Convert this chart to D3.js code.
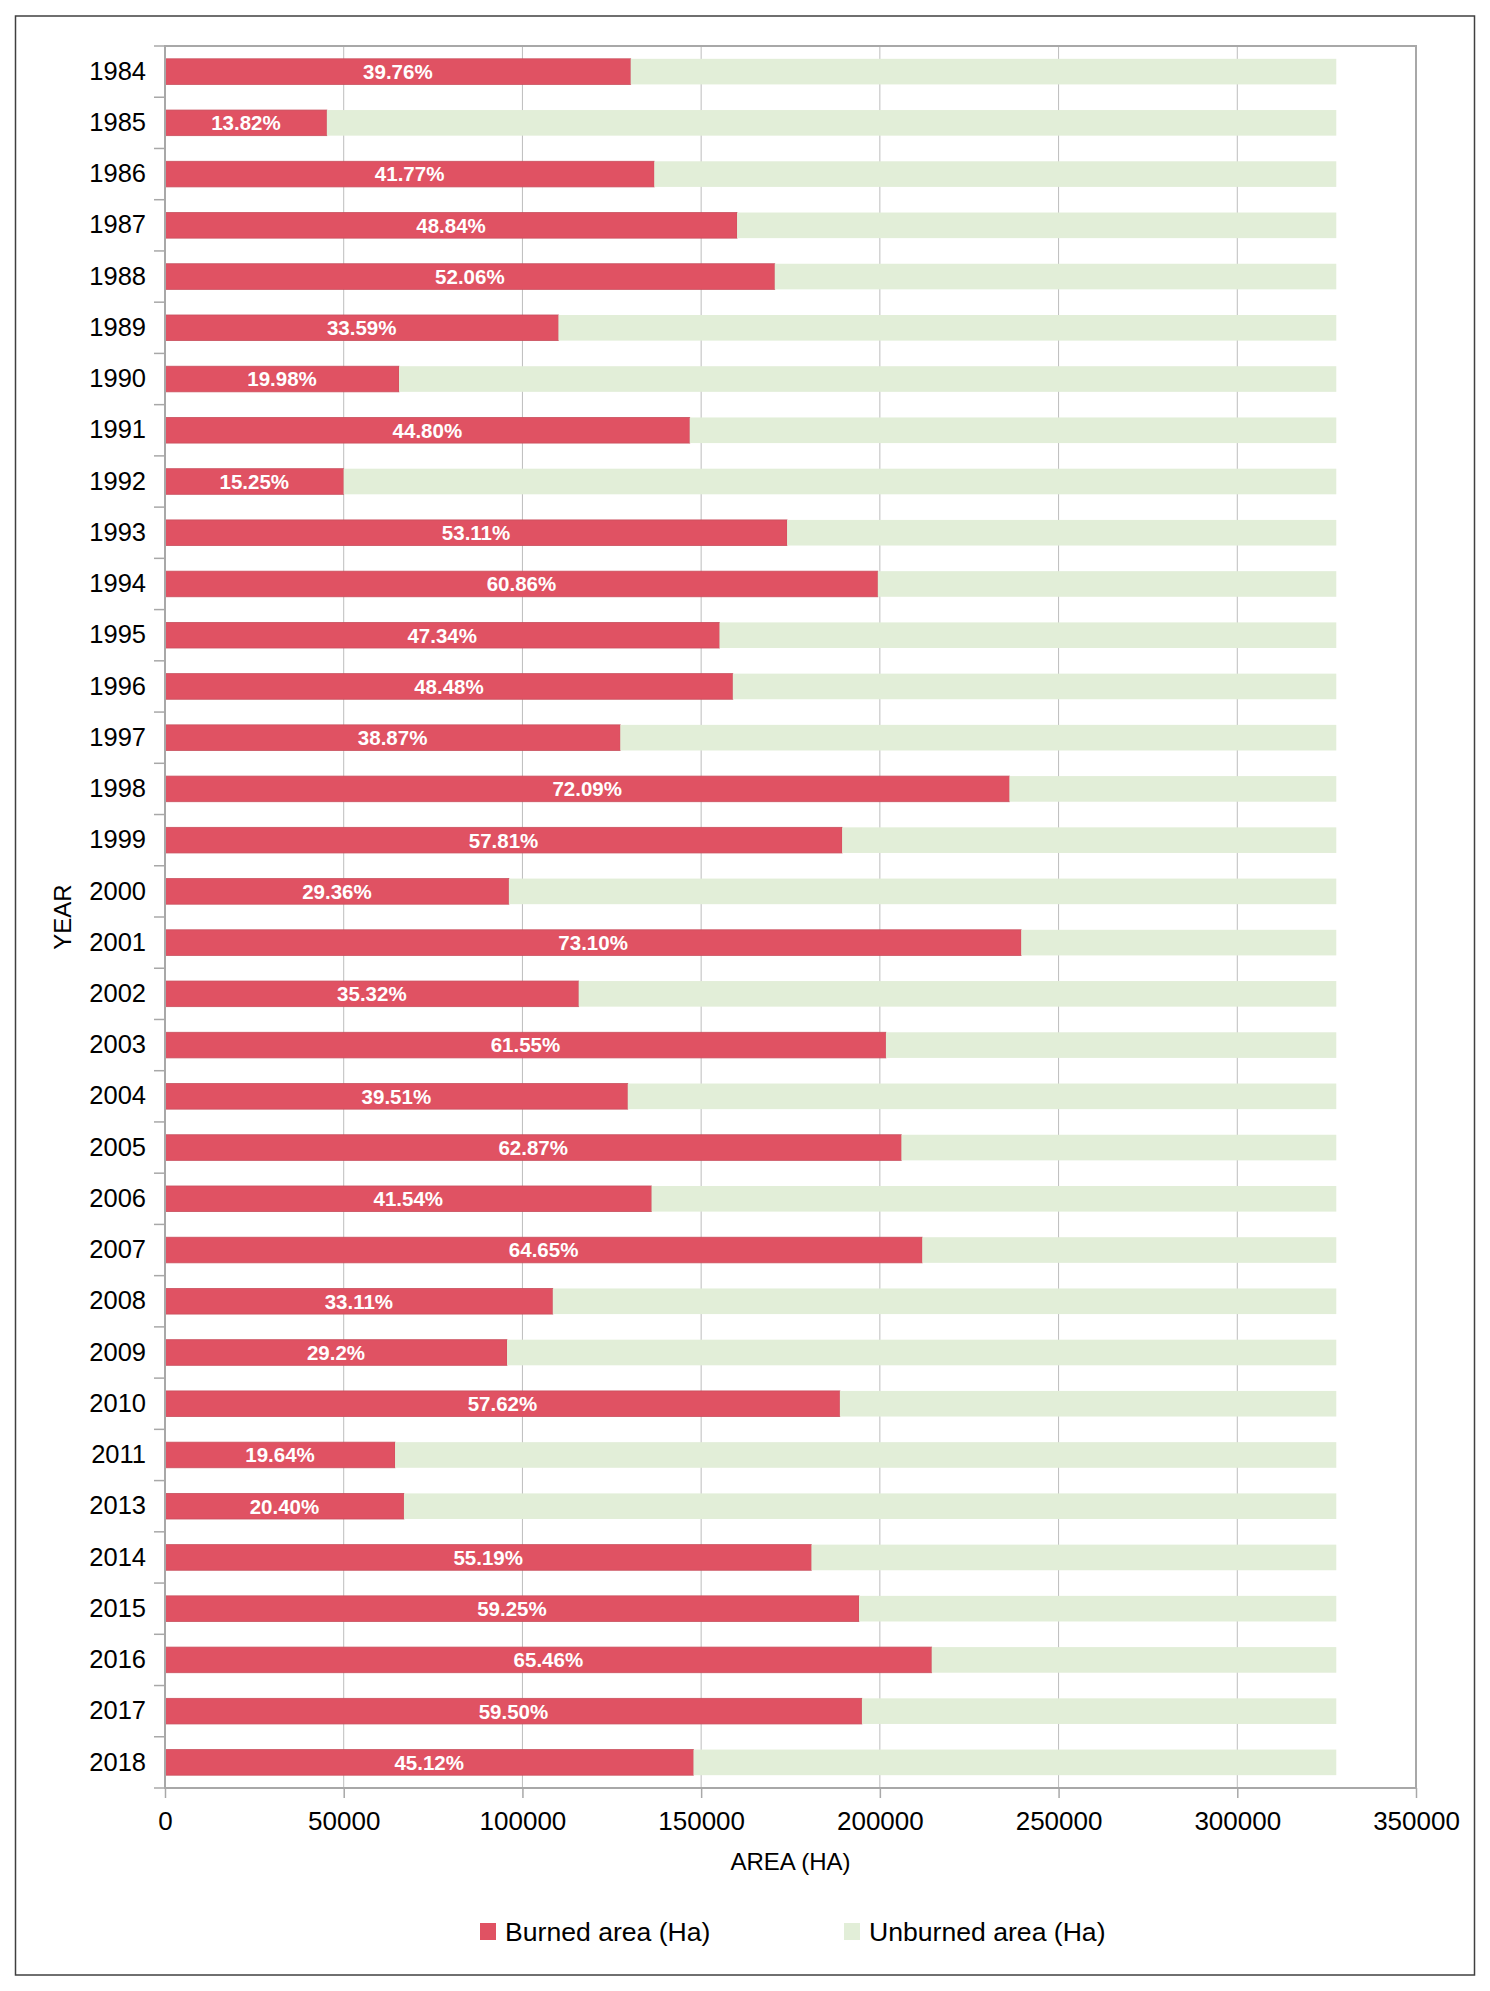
<!DOCTYPE html>
<html lang="en">
<head>
    <meta charset="UTF-8">
    <title>Burned and unburned area by year</title>
    <script src="https://d3js.org/d3.v7.min.js"></script>
    <style>
        body { margin: 0; background: #fff; font-family: "Liberation Sans", Arial, sans-serif; }
    </style>
</head>
<body>
    <script>
        // Data
        const years = ["1984","1985","1986","1987","1988","1989","1990","1991","1992","1993",
                       "1994","1995","1996","1997","1998","1999","2000","2001","2002","2003",
                       "2004","2005","2006","2007","2008","2009","2010","2011","2013","2014",
                       "2015","2016","2017","2018"];
        const burned = [130294, 45288, 136880, 160049, 170601, 110074, 65474, 146810, 49974, 174042,
                        199438, 155133, 158869, 127376, 236239, 189440, 96213, 239549, 115744, 201699,
                        129474, 206025, 136127, 211858, 108501, 95688, 188821, 64360, 66851, 180858,
                        194162, 214512, 194982, 147858];
        const unburned = [197406, 282412, 190820, 167651, 157099, 217626, 262226, 180890, 277726, 153658,
                          128262, 172567, 168831, 200324, 91461, 138260, 231487, 88151, 211956, 126001,
                          198226, 121675, 191573, 115842, 219199, 232012, 138879, 263340, 260849, 146842,
                          133538, 113188, 132718, 179842];
        const pctLabels = ["39.76%","13.82%","41.77%","48.84%","52.06%","33.59%","19.98%","44.80%","15.25%","53.11%",
                           "60.86%","47.34%","48.48%","38.87%","72.09%","57.81%","29.36%","73.10%","35.32%","61.55%",
                           "39.51%","62.87%","41.54%","64.65%","33.11%","29.2%","57.62%","19.64%","20.40%","55.19%",
                           "59.25%","65.46%","59.50%","45.12%"];
        const xTicks = [0, 50000, 100000, 150000, 200000, 250000, 300000, 350000];
        const seriesNames = ["Burned area (Ha)", "Unburned area (Ha)"];
        const seriesColors = ["#e05263", "#e2eed8"];

        const W = 1490, H = 1991;
        const plot = { left: 165, right: 1416, top: 46, bottom: 1788 };

        const svg = d3.select("body").append("svg")
            .attr("width", W)
            .attr("height", H);

        // outer frame
        svg.append("rect")
            .attr("x", 15.5).attr("y", 16)
            .attr("width", 1459).attr("height", 1959)
            .attr("fill", "none")
            .attr("stroke", "#404040")
            .attr("stroke-width", 1.5);

        const x = d3.scaleLinear()
            .domain([0, 350000])
            .range([plot.left, plot.right]);

        const y = d3.scaleBand()
            .domain(years)
            .range([plot.top, plot.bottom])
            .paddingInner(0.5)
            .paddingOuter(0.25);

        const rows = years.map((yr, i) => ({ year: yr, burned: burned[i], unburned: unburned[i], label: pctLabels[i] }));
        const stacked = d3.stack().keys(["burned", "unburned"])(rows);

        // vertical gridlines
        svg.append("g")
            .selectAll("line")
            .data(xTicks.slice(1, -1))
            .join("line")
            .attr("x1", d => x(d)).attr("x2", d => x(d))
            .attr("y1", plot.top).attr("y2", plot.bottom)
            .attr("stroke", "#bdbdbd")
            .attr("stroke-width", 1);

        // bars
        svg.append("g")
            .selectAll("g")
            .data(stacked)
            .join("g")
            .attr("fill", (d, i) => seriesColors[i])
            .attr("stroke", (d, i) => i === 0 ? "#c9505e" : "none")
            .attr("stroke-width", 0.8)
            .selectAll("rect")
            .data(d => d)
            .join("rect")
            .attr("x", d => x(d[0]))
            .attr("y", d => y(d.data.year))
            .attr("width", d => x(d[1]) - x(d[0]))
            .attr("height", y.bandwidth());

        // percent labels inside burned bars
        svg.append("g")
            .selectAll("text")
            .data(rows)
            .join("text")
            .attr("x", d => (x(0) + x(d.burned)) / 2)
            .attr("y", d => y(d.year) + y.bandwidth() / 2)
            .attr("dy", "0.36em")
            .attr("text-anchor", "middle")
            .attr("fill", "#ffffff")
            .style("font-size", "20.5px")
            .style("font-weight", "bold")
            .text(d => d.label);

        // plot frame
        svg.append("rect")
            .attr("x", plot.left).attr("y", plot.top)
            .attr("width", plot.right - plot.left)
            .attr("height", plot.bottom - plot.top)
            .attr("fill", "none")
            .attr("stroke", "#a8a8a8")
            .attr("stroke-width", 2);

        // y axis: category labels and boundary ticks
        const yAxis = svg.append("g")
            .attr("transform", `translate(${plot.left},0)`)
            .call(d3.axisLeft(y).tickSize(0).tickPadding(19));
        yAxis.select(".domain").remove();
        yAxis.selectAll("text")
            .attr("fill", "#000")
            .style("font-size", "25.5px")
            .style("font-family", "'Liberation Sans', Arial, sans-serif");

        const bounds = [plot.top].concat(years.map(d => y(d) + y.bandwidth() + y.step() * y.paddingInner() / 2));
        svg.append("g")
            .selectAll("line")
            .data(bounds)
            .join("line")
            .attr("x1", plot.left - 11).attr("x2", plot.left)
            .attr("y1", d => d).attr("y2", d => d)
            .attr("stroke", "#a8a8a8")
            .attr("stroke-width", 1.5);

        // x axis
        const xAxis = svg.append("g")
            .attr("transform", `translate(0,${plot.bottom})`)
            .call(d3.axisBottom(x).tickValues(xTicks).tickFormat(d3.format("d")).tickSize(10).tickPadding(14));
        xAxis.select(".domain").remove();
        xAxis.selectAll("line").attr("stroke", "#a8a8a8").attr("stroke-width", 1.5);
        xAxis.selectAll("text")
            .attr("fill", "#000")
            .style("font-size", "26px")
            .style("font-family", "'Liberation Sans', Arial, sans-serif");

        // axis titles
        svg.append("text")
            .attr("x", (plot.left + plot.right) / 2)
            .attr("y", 1870)
            .attr("text-anchor", "middle")
            .style("font-size", "24px")
            .text("AREA (HA)");

        svg.append("text")
            .attr("transform", `translate(71,${(plot.top + plot.bottom) / 2}) rotate(-90)`)
            .attr("text-anchor", "middle")
            .style("font-size", "24px")
            .text("YEAR");

        // legend
        const legendX = [480, 844];
        const legend = svg.append("g")
            .selectAll("g")
            .data(seriesNames)
            .join("g")
            .attr("transform", (d, i) => `translate(${legendX[i]},1923)`);
        legend.append("rect")
            .attr("width", 16).attr("height", 17)
            .attr("fill", (d, i) => seriesColors[i]);
        legend.append("text")
            .attr("x", 25)
            .attr("y", 18)
            .style("font-size", "26.6px")
            .text(d => d);
    </script>
</body>
</html>
